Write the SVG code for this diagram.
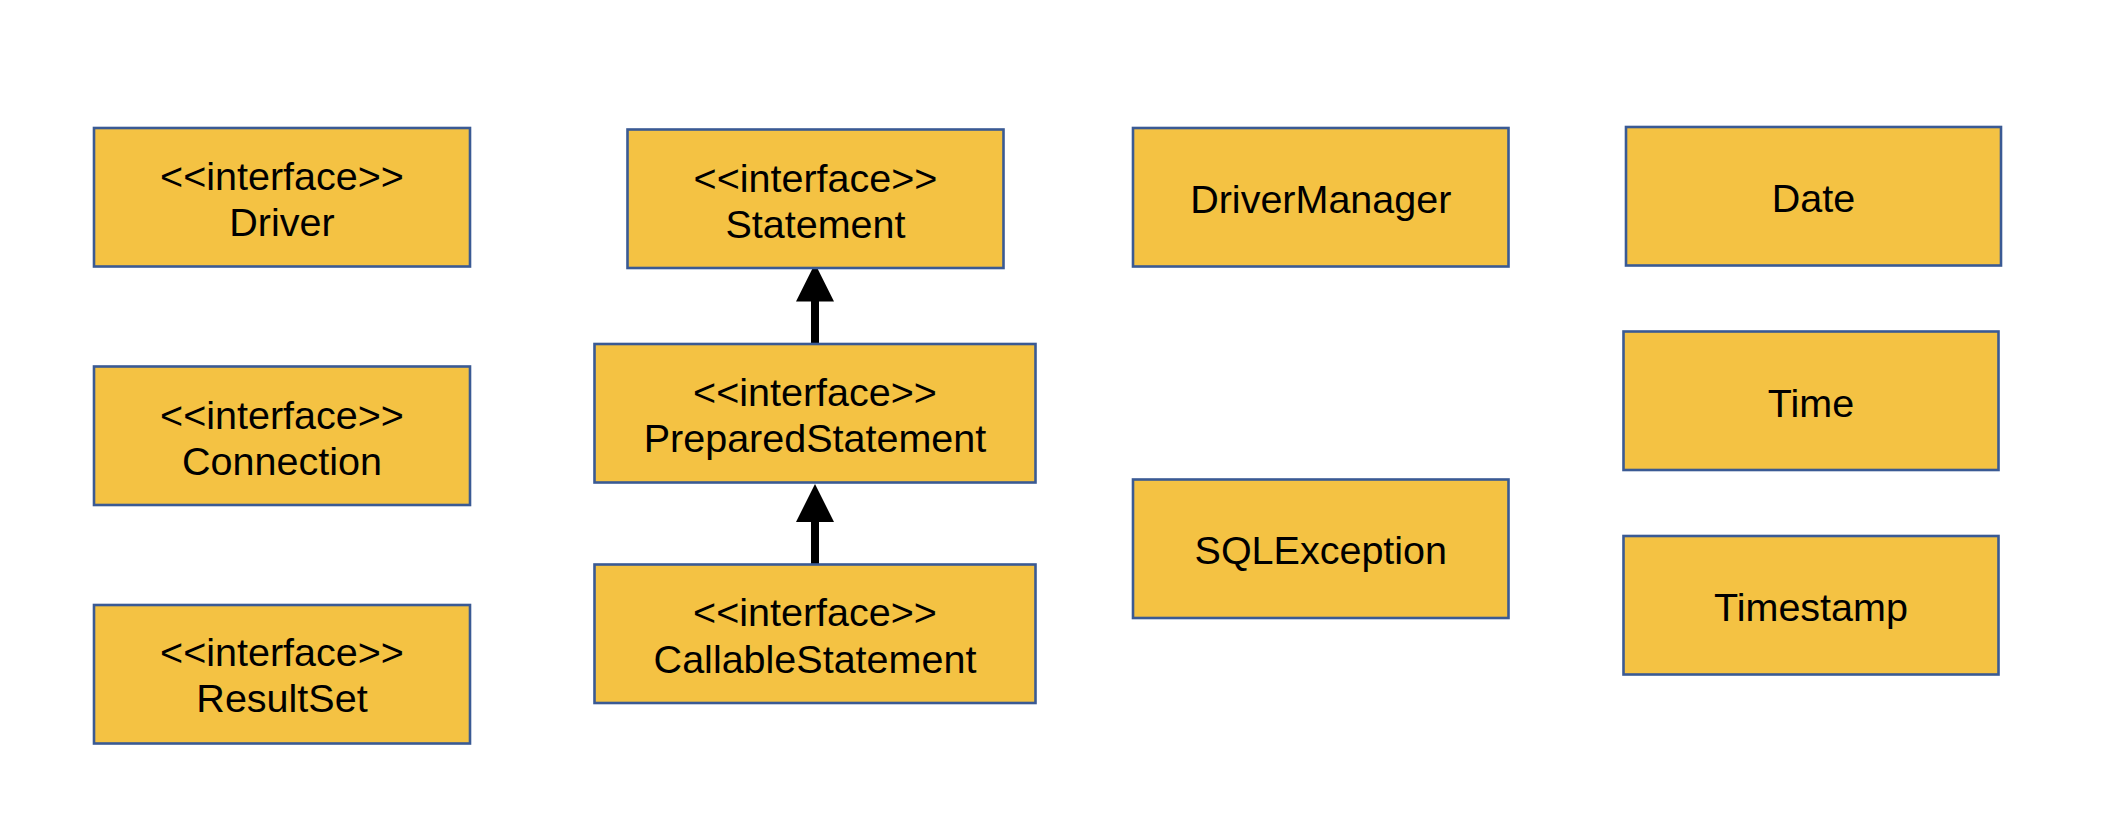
<svg xmlns="http://www.w3.org/2000/svg" width="2116" height="832" viewBox="0 0 2116 832">
<style>
.box{fill:#F4C243;stroke:#3A5A94;stroke-width:2.6}
.t{font-family:"Liberation Sans",Arial,sans-serif;font-size:39.5px;fill:#000;text-anchor:middle}
.con{stroke:#000;stroke-width:8;fill:none;marker-end:url(#tri)}
</style>
<defs>
<marker id="tri" markerUnits="userSpaceOnUse" markerWidth="38" markerHeight="38" viewBox="0 0 38 38" refX="0.5" refY="19" orient="auto" overflow="visible">
<path d="M0,0 L38,19 L0,38 Z" fill="#000"/>
</marker>
</defs>
<rect width="2116" height="832" fill="#fff"/>
<g id="connectors">
<line class="con" x1="815" y1="344" x2="815" y2="301"/>
<line class="con" x1="815" y1="564" x2="815" y2="521.5"/>
</g>
<g id="driver"><rect class="box" x="94" y="128" width="376" height="138.5"/>
<text class="t" x="282" y="190">&lt;&lt;interface&gt;&gt;</text><text class="t" x="282" y="236">Driver</text></g>
<g id="connection"><rect class="box" x="94" y="366.5" width="376" height="138.5"/>
<text class="t" x="282" y="429">&lt;&lt;interface&gt;&gt;</text><text class="t" x="282" y="475">Connection</text></g>
<g id="resultset"><rect class="box" x="94" y="605" width="376" height="138.5"/>
<text class="t" x="282" y="666">&lt;&lt;interface&gt;&gt;</text><text class="t" x="282" y="712">ResultSet</text></g>
<g id="statement"><rect class="box" x="627.5" y="129.5" width="376" height="138.5"/>
<text class="t" x="815.5" y="191.5">&lt;&lt;interface&gt;&gt;</text><text class="t" x="815.5" y="238">Statement</text></g>
<g id="preparedstatement"><rect class="box" x="594.5" y="344" width="441" height="138.5"/>
<text class="t" x="815" y="406">&lt;&lt;interface&gt;&gt;</text><text class="t" x="815" y="452">PreparedStatement</text></g>
<g id="callablestatement"><rect class="box" x="594.5" y="564.5" width="441" height="138.5"/>
<text class="t" x="815" y="625.5">&lt;&lt;interface&gt;&gt;</text><text class="t" x="815" y="672.5">CallableStatement</text></g>
<g id="drivermanager"><rect class="box" x="1133" y="128" width="375.5" height="138.5"/>
<text class="t" x="1320.8" y="213">DriverManager</text></g>
<g id="sqlexception"><rect class="box" x="1133" y="479.5" width="375.5" height="138.5"/>
<text class="t" x="1320.8" y="564">SQLException</text></g>
<g id="date"><rect class="box" x="1626" y="127" width="375" height="138.5"/>
<text class="t" x="1813.5" y="212">Date</text></g>
<g id="time"><rect class="box" x="1623.5" y="331.5" width="375" height="138.5"/>
<text class="t" x="1811" y="416.5">Time</text></g>
<g id="timestamp"><rect class="box" x="1623.5" y="536" width="375" height="138.5"/>
<text class="t" x="1811" y="621">Timestamp</text></g>
</svg>
